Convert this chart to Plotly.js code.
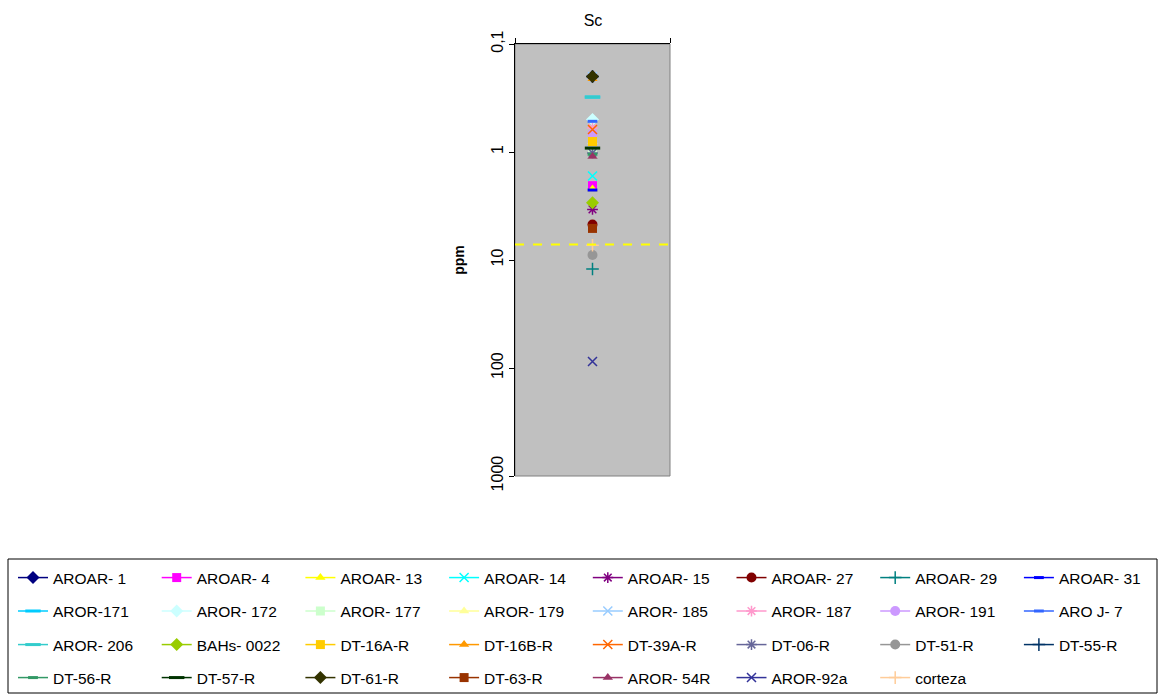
<!DOCTYPE html>
<html>
<head>
<meta charset="utf-8">
<script src="https://cdn.plot.ly/plotly-3.0.1.min.js"></script>
<style>html,body{margin:0;padding:0;background:#fff;}#chart{width:1163px;height:695px;}</style>
</head>
<body>
<div id="chart"></div>
<script>
// ---- data ----
const chartTitle = "Sc";
const yTitle = "ppm";
const sampleNames = ["AROAR- 1","AROAR- 4","AROAR- 13","AROAR- 14","AROAR- 15","AROAR- 27","AROAR- 29","AROAR- 31",
  "AROR-171","AROR- 172","AROR- 177","AROR- 179","AROR- 185","AROR- 187","AROR- 191","ARO J- 7",
  "AROR- 206","BAHs- 0022","DT-16A-R","DT-16B-R","DT-39A-R","DT-06-R","DT-51-R","DT-55-R",
  "DT-56-R","DT-57-R","DT-61-R","DT-63-R","AROR- 54R","AROR-92a","corteza"];
const scValues = [0.2, 2.05, 2.2, 1.67, 3.4, 4.7, 12.1, 2.25,
  0.31, 0.5, 1.05, 0.8, 0.2, 0.6, 0.68, 0.52,
  0.31, 2.95, 0.8, 0.21, 0.62, 1.02, 9.0, 0.2,
  1.05, 0.92, 0.2, 5.1, 1.1, 87, 7.3];
const referenceLevel = 7.2;
const yTickVals = [0.1, 1, 10, 100, 1000];
const yTickText = ["0,1", "1", "10", "100", "1000"];

// ---- styles ----
const colors = ["#000080","#FF00FF","#FFFF00","#00FFFF","#800080","#800000","#008080","#0000FF",
  "#00CCFF","#CCFFFF","#CCFFCC","#FFFF99","#99CCFF","#FF99CC","#CC99FF","#3366FF",
  "#33CCCC","#99CC00","#FFCC00","#FF9900","#FF6600","#666699","#969696","#003366",
  "#339966","#003300","#333300","#993300","#993366","#333399","#FFCC99"];
const markerKinds = ["diamond","square","triangle","x","asterisk","circle","plus","dot",
  "dash","diamond","square","triangle","x","asterisk","circle","dot",
  "dash","diamond","square","triangle","x","asterisk","circle","plus",
  "dot","dash","diamond","square","triangle","x","plus"];
function markerFor(i) {
  const k = markerKinds[i];
  const c = colors[i];
  switch (k) {
    case "diamond": return {symbol: "diamond", size: 10, color: c, line: {width: 0}};
    case "square": return {symbol: "square", size: 9, color: c, line: {width: 0}};
    case "triangle": return {symbol: "triangle-up", size: 9, color: c, line: {width: 0}};
    case "x": return {symbol: "x-thin-open", size: 9, color: c, line: {width: 1.5, color: c}};
    case "asterisk": return {symbol: "asterisk-open", size: 9, color: c, line: {width: 1.5, color: c}};
    case "circle": return {symbol: "circle", size: 10, color: c, line: {width: 0}};
    case "plus": return {symbol: "cross-thin-open", size: 9, color: c, line: {width: 1.5, color: c}};
    case "dot": return {symbol: "line-ew-open", size: 7, color: c, line: {width: 3, color: c}};
    case "dash": return {symbol: "line-ew-open", size: 11, color: c, line: {width: 3, color: c}};
  }
}
const legendNames = ["legend", "legend2", "legend3", "legend4"];

const traces = sampleNames.map((name, i) => ({
  type: "scatter",
  mode: "lines+markers",
  name: name,
  x: [1],
  y: [scValues[i]],
  marker: markerFor(i),
  line: {color: colors[i], width: 1.5},
  legend: legendNames[Math.floor(i / 8)],
  hoverinfo: "name+y"
}));

const W = 1163, H = 695;
const plotL = 515, plotR = 670, plotT = 44, plotB = 476;
const ph = plotB - plotT;
const rowY = [578, 611.5, 645, 678.5];
function legendDef(r) {
  return {
    orientation: "h",
    x: 13 / W, xanchor: "left",
    y: (plotB - rowY[r]) / ph, yanchor: "middle",
    entrywidth: 98.7, entrywidthmode: "pixels",
    font: {family: "Liberation Sans, Arial, sans-serif", size: 15.5, color: "#000"},
    bgcolor: "rgba(0,0,0,0)", borderwidth: 0,
    traceorder: "normal"
  };
}

const layout = {
  width: W, height: H,
  separators: ",.",
  margin: {l: 0, r: 0, t: plotT, b: H - plotB, pad: 0},
  paper_bgcolor: "#FFFFFF",
  plot_bgcolor: "#C0C0C0",
  font: {family: "Liberation Sans, Arial, sans-serif", color: "#000"},
  title: {text: chartTitle, x: 593 / W, xanchor: "center", y: 1 - 20 / H, yanchor: "middle",
          font: {size: 16, family: "Liberation Sans, Arial, sans-serif", color: "#000"}},
  xaxis: {
    domain: [plotL / W, plotR / W],
    range: [0, 2], side: "top",
    showgrid: false, zeroline: false,
    showline: true, linecolor: "#000", linewidth: 1,
    ticks: "outside", ticklen: 5, tickcolor: "#000",
    tickmode: "array", tickvals: [0, 2], showticklabels: false, fixedrange: true
  },
  yaxis: {
    type: "log",
    range: [Math.log10(1000), Math.log10(0.1)],
    tickmode: "array", tickvals: yTickVals, ticktext: yTickText,
    tickangle: -90,
    tickfont: {size: 16, family: "Liberation Sans, Arial, sans-serif", color: "#000"},
    showgrid: false, zeroline: false,
    showline: true, linecolor: "#000", linewidth: 1,
    ticks: "outside", ticklen: 5, tickcolor: "#000",
    title: {text: "<b>" + yTitle + "</b>", font: {size: 14, family: "Liberation Sans, Arial, sans-serif", color: "#000"}, standoff: 20},
    fixedrange: true
  },
  shapes: [
    {type: "rect", xref: "x domain", yref: "y domain", x0: 0, x1: 1, y0: 0, y1: 1,
     line: {color: "#808080", width: 1}, fillcolor: "rgba(0,0,0,0)", layer: "below"},
    {type: "line", xref: "x domain", yref: "y", x0: 0, x1: 1, y0: referenceLevel, y1: referenceLevel,
     line: {color: "#FFFF00", width: 2, dash: "dash"}},
    {type: "rect", xref: "paper", yref: "paper",
     x0: 8 / W, x1: 1157 / W, y0: (plotB - 693) / ph, y1: (plotB - 559) / ph,
     line: {color: "#000", width: 1}, fillcolor: "rgba(0,0,0,0)"}
  ],
  legend: legendDef(0),
  legend2: legendDef(1),
  legend3: legendDef(2),
  legend4: legendDef(3),
  showlegend: true
};

Plotly.newPlot("chart", traces, layout, {displayModeBar: false});
</script>
</body>
</html>
